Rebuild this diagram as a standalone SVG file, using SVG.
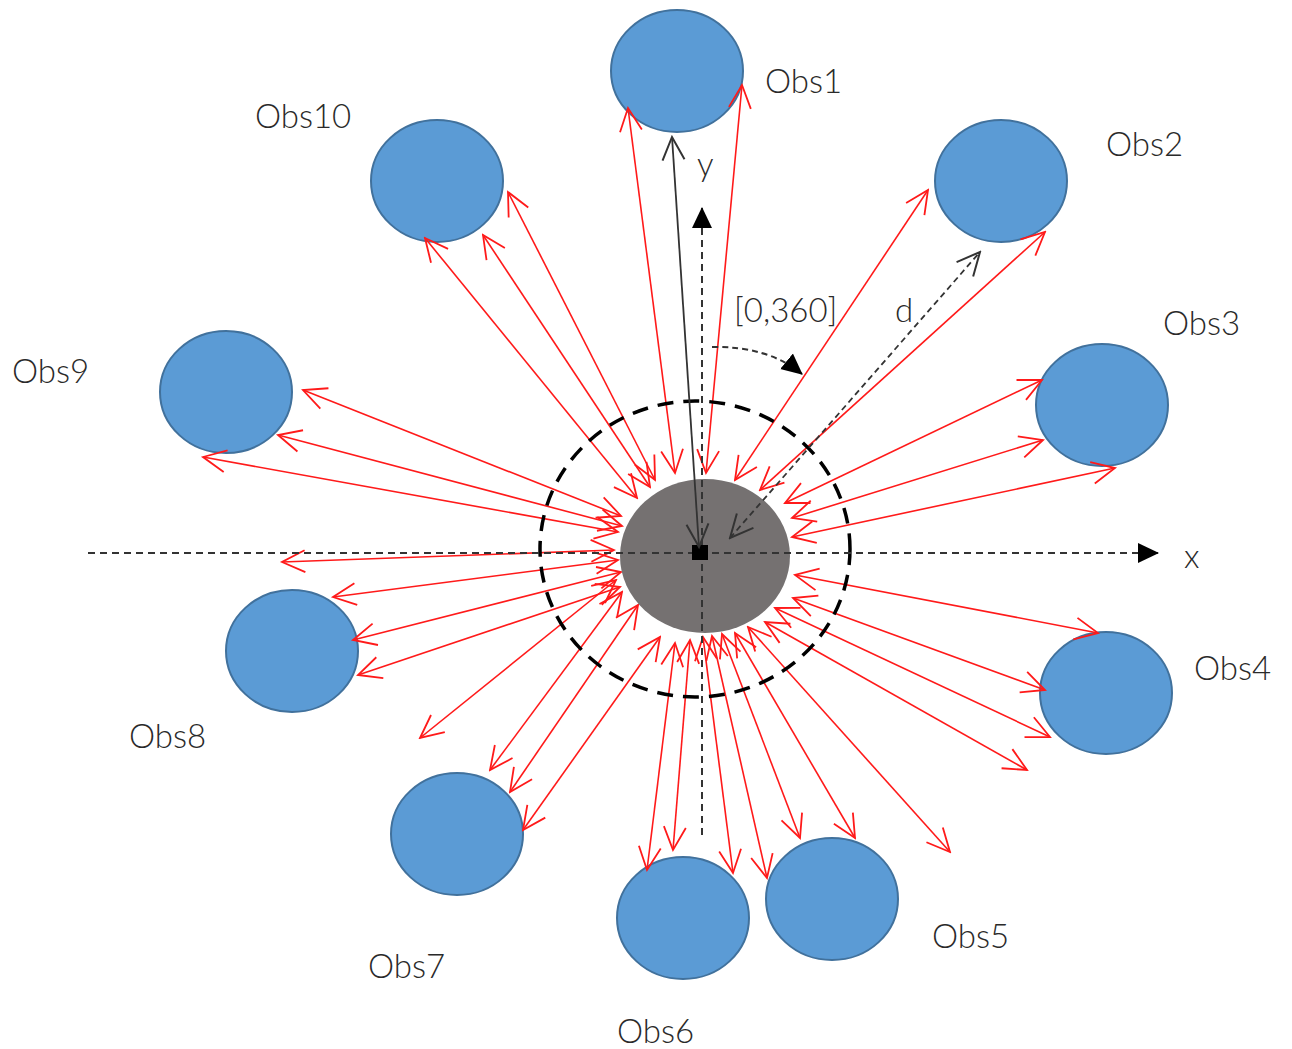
<svg xmlns="http://www.w3.org/2000/svg" width="1292" height="1049" viewBox="0 0 1292 1049">
  <defs>
    <style>
      .obs { fill: #5B9BD5; stroke: #41719C; stroke-width: 2; }
      .lbl { font-family: Lato, "Open Sans", "Liberation Sans", sans-serif; font-weight: 300; font-size: 33px; fill: #2a2a2a; }
      .ray { stroke: #FF1A1A; stroke-width: 1.6; fill: none; marker-start: url(#redHead); marker-end: url(#redHead); }
      .axis { stroke: #333333; stroke-width: 2; stroke-dasharray: 7 5; fill: none; }
    </style>
    <marker id="redHead" markerUnits="userSpaceOnUse" viewBox="0 0 28 28" markerWidth="28" markerHeight="28" refX="26" refY="14" orient="auto-start-reverse">
      <path d="M3,3 L26,14 L3,25" fill="none" stroke="#FF1A1A" stroke-width="1.8"/>
    </marker>
    <marker id="blackHead" markerUnits="userSpaceOnUse" viewBox="0 0 28 28" markerWidth="28" markerHeight="28" refX="26" refY="14" orient="auto-start-reverse">
      <path d="M3,3 L26,14 L3,25" fill="none" stroke="#333333" stroke-width="2"/>
    </marker>
    <marker id="grayHead" markerUnits="userSpaceOnUse" viewBox="0 0 28 28" markerWidth="28" markerHeight="28" refX="26" refY="14" orient="auto-start-reverse">
      <path d="M3,3 L26,14 L3,25" fill="none" stroke="#333333" stroke-width="2"/>
    </marker>
    <marker id="solidHead" markerUnits="userSpaceOnUse" viewBox="0 0 22 22" markerWidth="22" markerHeight="22" refX="20" refY="11" orient="auto">
      <path d="M0,1 L21,11 L0,21 Z" fill="#000000"/>
    </marker>
  </defs>

  <rect width="1292" height="1049" fill="#FFFFFF"/>

  <!-- obstacles -->
  <g id="obs1"><ellipse class="obs" cx="677" cy="71" rx="66" ry="61"/><text class="lbl" x="765" y="93">Obs1</text></g>
  <g id="obs2"><ellipse class="obs" cx="1001" cy="181" rx="66" ry="61"/><text class="lbl" x="1106" y="156">Obs2</text></g>
  <g id="obs3"><ellipse class="obs" cx="1102" cy="405" rx="66" ry="61"/><text class="lbl" x="1163" y="335">Obs3</text></g>
  <g id="obs4"><ellipse class="obs" cx="1106" cy="693" rx="66" ry="61"/><text class="lbl" x="1194" y="680">Obs4</text></g>
  <g id="obs5"><ellipse class="obs" cx="832" cy="899" rx="66" ry="61"/><text class="lbl" x="932" y="948">Obs5</text></g>
  <g id="obs6"><ellipse class="obs" cx="683" cy="918" rx="66" ry="61"/><text class="lbl" x="617" y="1043">Obs6</text></g>
  <g id="obs7"><ellipse class="obs" cx="457" cy="834" rx="66" ry="61"/><text class="lbl" x="368" y="978">Obs7</text></g>
  <g id="obs8"><ellipse class="obs" cx="292" cy="651" rx="66" ry="61"/><text class="lbl" x="129" y="748">Obs8</text></g>
  <g id="obs9"><ellipse class="obs" cx="226" cy="392" rx="66" ry="61"/><text class="lbl" x="12" y="383">Obs9</text></g>
  <g id="obs10"><ellipse class="obs" cx="437" cy="181" rx="66" ry="61"/><text class="lbl" x="255" y="128">Obs10</text></g>

  <!-- range beams, double-headed -->
  <g id="connectors">
    <line class="ray" x1="675" y1="473" x2="628" y2="108"/>
    <line class="ray" x1="706" y1="473" x2="742" y2="85"/>
    <line class="ray" x1="735" y1="480" x2="928" y2="190"/>
    <line class="ray" x1="760" y1="490" x2="1045" y2="232"/>
    <line class="ray" x1="785" y1="503" x2="1042" y2="380"/>
    <line class="ray" x1="792" y1="518" x2="1043" y2="440"/>
    <line class="ray" x1="792" y1="537" x2="1115" y2="468"/>
    <line class="ray" x1="795" y1="575" x2="1098" y2="633"/>
    <line class="ray" x1="793" y1="598" x2="1045" y2="690"/>
    <line class="ray" x1="775" y1="608" x2="1050" y2="737"/>
    <line class="ray" x1="765" y1="622" x2="1027" y2="770"/>
    <line class="ray" x1="748" y1="627" x2="950" y2="852"/>
    <line class="ray" x1="735" y1="633" x2="855" y2="838"/>
    <line class="ray" x1="722" y1="634" x2="800" y2="838"/>
    <line class="ray" x1="712" y1="636" x2="767" y2="878"/>
    <line class="ray" x1="703" y1="637" x2="733" y2="873"/>
    <line class="ray" x1="690" y1="640" x2="673" y2="850"/>
    <line class="ray" x1="675" y1="643" x2="647" y2="870"/>
    <line class="ray" x1="660" y1="637" x2="523" y2="830"/>
    <line class="ray" x1="638" y1="605" x2="510" y2="792"/>
    <line class="ray" x1="622" y1="592" x2="490" y2="770"/>
    <line class="ray" x1="616" y1="580" x2="420" y2="738"/>
    <line class="ray" x1="620" y1="587" x2="358" y2="675"/>
    <line class="ray" x1="621" y1="572" x2="353" y2="640"/>
    <line class="ray" x1="618" y1="560" x2="333" y2="597"/>
    <line class="ray" x1="614" y1="550" x2="282" y2="562"/>
    <line class="ray" x1="618" y1="532" x2="203" y2="457"/>
    <line class="ray" x1="622" y1="526" x2="278" y2="435"/>
    <line class="ray" x1="621" y1="516" x2="303" y2="390"/>
    <line class="ray" x1="637" y1="498" x2="425" y2="238"/>
    <line class="ray" x1="650" y1="487" x2="483" y2="235"/>
    <line class="ray" x1="655" y1="480" x2="508" y2="192"/>
  </g>

  <!-- sensing range -->
  <ellipse cx="695" cy="549" rx="155" ry="148" fill="none" stroke="#000000" stroke-width="3.5" stroke-dasharray="16 10"/>

  <!-- robot body -->
  <g id="robot">
    <ellipse cx="705" cy="556" rx="85" ry="77" fill="#757171"/>
  </g>

  <!-- local frame -->
  <g id="axes">
    <line class="axis" x1="88" y1="553" x2="1158" y2="553" marker-end="url(#solidHead)"/>
    <text class="lbl" x="1184" y="568" font-size="31">x</text>
    <line class="axis" x1="702" y1="835" x2="702" y2="208" marker-end="url(#solidHead)"/>
    <text class="lbl" x="697" y="176" font-size="31">y</text>
    <rect x="692" y="545" width="16" height="15" fill="#000000"/>
  </g>

  <!-- distance to Obs1 -->
  <line x1="699" y1="547" x2="672" y2="137" stroke="#333333" stroke-width="1.8" marker-start="url(#blackHead)" marker-end="url(#blackHead)"/>

  <!-- distance d -->
  <g id="dist-d">
    <line x1="730" y1="538" x2="980" y2="252" stroke="#333333" stroke-width="1.8" stroke-dasharray="6 4" marker-start="url(#grayHead)" marker-end="url(#grayHead)"/>
    <text class="lbl" x="895" y="322" font-size="31" fill="#444444">d</text>
  </g>

  <!-- heading range -->
  <g id="heading">
    <path d="M712,347 Q768,346 802,374" fill="none" stroke="#333333" stroke-width="2" stroke-dasharray="6 4" marker-end="url(#solidHead)"/>
    <text class="lbl" x="734" y="322" font-size="31" fill="#555555">[0,360]</text>
  </g>
</svg>
